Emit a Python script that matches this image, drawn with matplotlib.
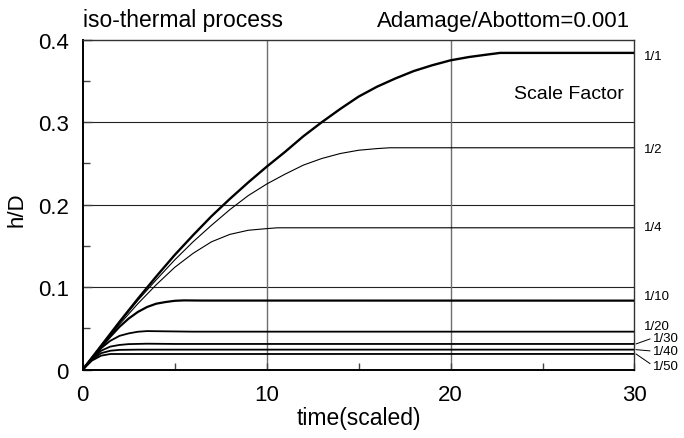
import matplotlib
matplotlib.use("Agg")
import matplotlib.pyplot as plt
from matplotlib.ticker import MultipleLocator

plt.rcParams['font.family'] = ['Liberation Sans', 'DejaVu Sans']

# ---- data ----
t_1 = [0, 1, 2, 3, 4, 5, 6, 7, 8, 9, 10, 11, 12, 13, 14, 15, 16, 17, 18, 19, 20, 21, 22, 22.7, 30]
h_1 = [0, 0.029, 0.058, 0.086, 0.113, 0.139, 0.163, 0.186, 0.207, 0.227, 0.246, 0.264, 0.283,
       0.300, 0.316, 0.331, 0.343, 0.353, 0.362, 0.369, 0.375, 0.379, 0.382, 0.384, 0.384]

t_2 = [0, 1, 2, 3, 4, 5, 6, 7, 8, 9, 10, 11, 12, 13, 14, 15, 16, 16.7, 30]
h_2 = [0, 0.029, 0.057, 0.084, 0.109, 0.133, 0.155, 0.175, 0.194, 0.211, 0.225, 0.237, 0.248,
       0.256, 0.262, 0.266, 0.268, 0.269, 0.269]

t_4 = [0, 1, 2, 3, 4, 5, 6, 7, 8, 9, 10, 10.6, 30]
h_4 = [0, 0.028, 0.055, 0.080, 0.103, 0.124, 0.141, 0.155, 0.164, 0.169, 0.171, 0.172, 0.172]

t_10 = [0, 0.5, 1, 1.5, 2, 2.5, 3, 3.5, 4, 4.5, 5, 5.5, 6.5, 30]
h_10 = [0, 0.014, 0.027, 0.040, 0.052, 0.062, 0.070, 0.076, 0.080, 0.082, 0.0835, 0.084, 0.0838, 0.0837]

t_20 = [0, 0.5, 1, 1.5, 2, 2.5, 3, 3.5, 4.5, 6, 30]
h_20 = [0, 0.014, 0.026, 0.035, 0.041, 0.044, 0.046, 0.0468, 0.0465, 0.0461, 0.0461]

t_30 = [0, 0.5, 1, 1.5, 2, 2.5, 3.5, 5, 30]
h_30 = [0, 0.013, 0.023, 0.028, 0.030, 0.031, 0.0315, 0.0312, 0.0312]

t_40 = [0, 0.5, 1, 1.5, 2, 3, 30]
h_40 = [0, 0.012, 0.020, 0.023, 0.024, 0.0243, 0.0243]

t_50 = [0, 0.5, 1, 1.5, 30]
h_50 = [0, 0.011, 0.017, 0.019, 0.0191]

scale_labels = ['1/1', '1/2', '1/4', '1/10', '1/20', '1/30', '1/40', '1/50']
label_y = [0.3803, 0.2678, 0.1728, 0.0898, 0.0535, 0.0385, 0.0225, 0.0050]

x_ticks = [0, 10, 20, 30]
y_ticks = [0, 0.1, 0.2, 0.3, 0.4]
y_tick_labels = ['0', '0.1', '0.2', '0.3', '0.4']

series = [(t_1, h_1, 1.7), (t_2, h_2, 0.8), (t_4, h_4, 0.8), (t_10, h_10, 1.6),
          (t_20, h_20, 1.3), (t_30, h_30, 1.3), (t_40, h_40, 1.3), (t_50, h_50, 1.3)]

# ---- figure ----
fig = plt.figure(figsize=(6.84, 4.39), dpi=100)
ax = fig.add_axes([0.1209, 0.1556, 0.8067, 0.7517])

for yv in [0.1, 0.2, 0.3]:
    ax.axhline(yv, color='#222222', lw=0.8, zorder=1)
for xv in [10, 20]:
    ax.axvline(xv, color='#6e6e6e', lw=1.0, zorder=1)

for t, h, lw in series:
    ax.plot(t, h, color='black', lw=lw, zorder=3, solid_capstyle='butt')

ax.set_xlim(0, 30)
ax.set_ylim(0, 0.4)
ax.set_xticks(x_ticks)
ax.set_xticklabels([str(v) for v in x_ticks])
ax.xaxis.set_minor_locator(MultipleLocator(5))
ax.set_yticks(y_ticks)
ax.set_yticklabels(y_tick_labels)
ax.yaxis.set_minor_locator(MultipleLocator(0.05))

ax.tick_params(axis='both', which='both', direction='in', top=False, right=False,
               labelsize=16, pad=10, color='#444444')
ax.tick_params(axis='y', which='major', length=6.5, width=1.0)
ax.tick_params(axis='y', which='minor', length=4.8, width=1.0)
ax.tick_params(axis='x', which='both', length=5, width=1.0)

for side in ['left', 'bottom']:
    ax.spines[side].set_linewidth(1.4)
    ax.spines[side].set_color('black')
for side in ['top', 'right']:
    ax.spines[side].set_linewidth(1.0)
    ax.spines[side].set_color('#333333')

# right-hand scale-factor labels
for i, (lab, ly) in enumerate(zip(scale_labels, label_y)):
    if i < 5:
        ax.text(30.5, ly, lab, fontsize=9.5, ha='left', va='center', clip_on=False)
    else:
        end_h = series[i][1][-1]
        ax.annotate(lab, xy=(30.08, end_h), xytext=(31.0, ly), fontsize=9.5,
                    ha='left', va='center', annotation_clip=False,
                    arrowprops=dict(arrowstyle='-', lw=0.7, color='black',
                                    shrinkA=0, shrinkB=0,
                                    relpos=(0, 0.5)))

ax.text(29.43, 0.3346, 'Scale Factor', fontsize=14, ha='right', va='center')

fig.text(83.3 / 684, (439 - 26.7) / 439, 'iso-thermal process', fontsize=16.5,
         ha='left', va='baseline')
fig.text(630 / 684, (439 - 26.7) / 439, 'Adamage/Abottom=0.001', fontsize=16,
         ha='right', va='baseline')
fig.text(358.6 / 684, (439 - 419) / 439, 'time(scaled)', fontsize=16.5,
         ha='center', va='center')
fig.text(16.7 / 684, (439 - 210) / 439, 'h/D', fontsize=16, rotation=90,
         ha='center', va='center')

fig.savefig('out.png', dpi=100)
